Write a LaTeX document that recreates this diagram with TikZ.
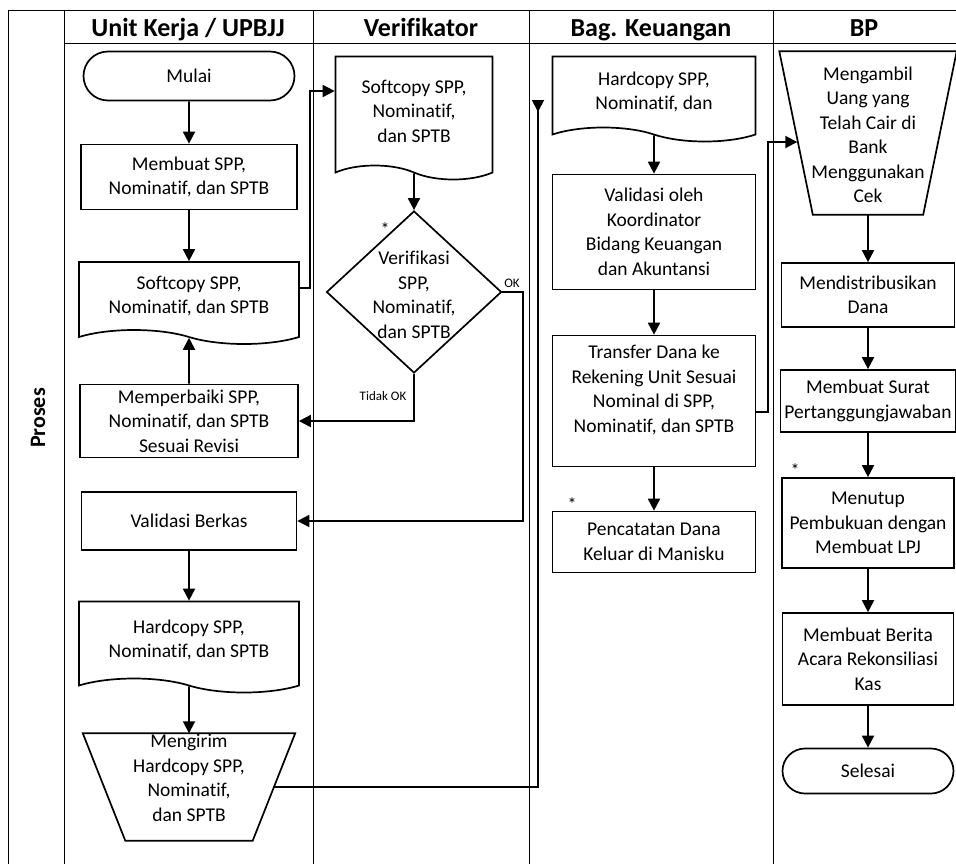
\documentclass[tikz,border=0pt]{standalone}
\usepackage{fontspec}
\setmainfont{Carlito}[Ligatures=CommonOff]
\usetikzlibrary{shapes.geometric,shapes.misc,shapes.symbols,arrows.meta}

\tikzset{
	lane/.style={black, line width=0.8pt},
	box/.style={draw, line width=1.7pt, align=center, inner sep=1pt, font=\fontsize{19.5}{24.5}\selectfont},
	term/.style={box, rounded rectangle},
	docu/.style={box, tape, tape bend top=none, tape bend bottom=out and in, tape bend height=14pt},
	mail/.style={rectangle, inner sep=0pt},
	outline/.style={line width=1.7pt, line join=miter},
	dec/.style={draw, line width=1.7pt, diamond, inner sep=0pt},
	txt/.style={align=center, font=\fontsize{19.5}{24.5}\selectfont},
	head/.style={anchor=base, font=\fontsize{26}{30}\selectfont\bfseries},
	small/.style={font=\fontsize{13}{15}\selectfont},
	starmark/.style={font=\fontsize{18}{20}\selectfont},
	arrow/.style={-{Triangle[width=12pt,length=12pt]}, line width=1.8pt},
	backarrow/.style={-{Triangle[width=12pt,length=12pt,reversed]}, line width=1.8pt}
}

\begin{document}
\begin{tikzpicture}[x=1pt, y=-1pt]
\useasboundingbox (0,0) rectangle (956,863);

% lanes
\draw [lane] (8,870) -- (8,10) -- (962,10);
\draw [lane] (64,10) -- (64,870);
\draw [lane] (313,10) -- (313,870);
\draw [lane] (529,10) -- (529,870);
\draw [lane] (773,10) -- (773,870);
\draw [lane] (64,43) -- (962,43);

\node (hunit) at (188,36) [head] {Unit Kerja / UPBJJ};
\node (hverif) at (421,36) [head] {Verifikator};
\node (hkeu) at (651,36) [head] {Bag. Keuangan};
\node (hbp) at (864,36) [head] {BP};
\node (proses) at (38,418) [rotate=90, font=\fontsize{22}{24}\selectfont\bfseries] {Proses};

% Unit Kerja / UPBJJ
\node (mulai) at (189,76) [term, minimum width=213pt, minimum height=49pt] {Mulai};
\node (buat) at (189,177) [box, minimum width=216pt, minimum height=65pt] {Membuat SPP,\\Nominatif, dan SPTB};
\node (soft1) at (189,296) [docu, minimum width=220pt, minimum height=82pt] {Softcopy SPP,\\Nominatif, dan SPTB};
\node (perbaiki) at (189,421) [box, minimum width=218pt, minimum height=73pt] {Memperbaiki SPP,\\Nominatif, dan SPTB\\Sesuai Revisi};
\node (valberkas) at (189,521) [box, minimum width=215pt, minimum height=58pt] {Validasi Berkas};
\node (hard1) at (189,640) [docu, minimum width=220pt, minimum height=91pt] {Hardcopy SPP,\\Nominatif, dan SPTB};
\node (kirim) at (189,787) [mail, minimum width=212pt, minimum height=107pt] {};
\draw [outline] (kirim.north west) -- (kirim.north east) -- ([xshift=-42.5pt]kirim.south east)
	-- ([xshift=42.5pt]kirim.south west) -- cycle;
\node (kirimtxt) at (189,778) [txt] {Mengirim\\Hardcopy SPP,\\Nominatif,\\dan SPTB};

% Verifikator
\node (soft2) at (414,111) [docu, minimum width=157pt, minimum height=123pt] {Softcopy SPP,\\Nominatif,\\dan SPTB};
\node (verif) at (414,292) [dec, minimum width=175pt, minimum height=162pt] {};
\node (veriftxt) at (414,295) [txt] {Verifikasi\\SPP,\\Nominatif,\\dan SPTB};
\node (star1) at (385,229) [starmark] {*};
\node (ok) at (512,283) [small] {OK};
\node (tidakok) at (383,396) [small] {Tidak OK};

% Bag. Keuangan
\node (hard2) at (654,92) [docu, minimum width=203pt, minimum height=85pt] {Hardcopy SPP,\\Nominatif, dan};
\node (valkoord) at (654,232) [box, minimum width=203pt, minimum height=115pt] {Validasi oleh\\Koordinator\\Bidang Keuangan\\dan Akuntansi};
\node (transfer) at (654,401) [box, minimum width=203pt, minimum height=131pt] {Transfer Dana ke\\Rekening Unit Sesuai\\Nominal di SPP,\\Nominatif, dan SPTB\\~};
\node (catat) at (654,542) [box, minimum width=203pt, minimum height=61pt] {Pencatatan Dana\\Keluar di Manisku};
\node (star2) at (572,504) [starmark] {*};

% BP
\node (bank) at (868,133) [mail, minimum width=177pt, minimum height=163pt] {};
\draw [outline] (bank.north west) -- (bank.north east) -- ([xshift=-33.5pt]bank.south east)
	-- ([xshift=33.5pt]bank.south west) -- cycle;
\node (banktxt) at (868,135) [txt] {Mengambil\\Uang yang\\Telah Cair di\\Bank\\Menggunakan\\Cek};
\node (distrib) at (868,295) [box, minimum width=173pt, minimum height=64pt] {Mendistribusikan\\Dana};
\node (surat) at (868,401) [box, minimum width=175pt, minimum height=62pt] {Membuat Surat\\Pertanggungjawaban};
\node (tutup) at (868,523) [box, minimum width=172pt, minimum height=90pt] {Menutup\\Pembukuan dengan\\Membuat LPJ};
\node (star3) at (795,470) [starmark] {*};
\node (berita) at (868,659) [box, minimum width=171pt, minimum height=92pt] {Membuat Berita\\Acara Rekonsiliasi\\Kas};
\node (selesai) at (868,771) [term, minimum width=173pt, minimum height=45pt] {Selesai};

% connectors
\draw [arrow] (mulai) -- (buat);
\draw [arrow] (buat) -- (soft1);
\draw [arrow] (perbaiki) -- (soft1);
\draw [arrow] (valberkas) -- (hard1);
\draw [arrow] (hard1) -- (kirim);
\draw [arrow] ([yshift=8pt]soft1.east) -- ++(10,0) |- ([yshift=20pt]soft2.west);
\draw [arrow] (soft2) -- (verif);
\draw [arrow] (verif.east) -- ++(21,0) |- (valberkas.east);
\draw [arrow] (verif.south) |- (perbaiki.east);
\coordinate (kirimend) at (538,100);
\draw [backarrow] ([xshift=-21pt]kirim.east) -| (kirimend);
\draw [arrow] (hard2) -- (valkoord);
\draw [arrow] (valkoord) -- (transfer);
\draw [arrow] (transfer) -- (catat);
\draw [arrow] ([yshift=-11pt]transfer.east) -- ++(12,0) |- ([xshift=18pt,yshift=-9pt]bank.west);
\draw [arrow] (bank) -- (distrib);
\draw [arrow] (distrib) -- (surat);
\draw [arrow] (surat) -- (tutup);
\draw [arrow] (tutup) -- (berita);
\draw [arrow] (berita) -- (selesai);

\end{tikzpicture}
\end{document}
